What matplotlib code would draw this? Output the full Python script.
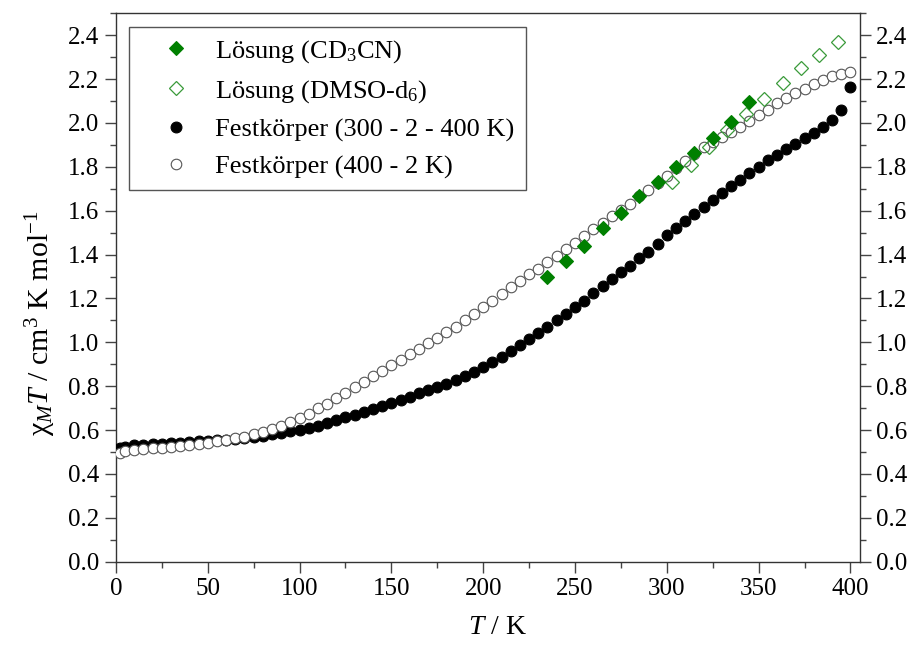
import matplotlib
matplotlib.use("Agg")
import matplotlib.pyplot as plt
from matplotlib.ticker import MultipleLocator
import numpy as np

plt.rcParams['font.family'] = ['Liberation Serif', 'DejaVu Serif']
plt.rcParams['mathtext.fontset'] = 'custom'
plt.rcParams['mathtext.rm'] = 'Liberation Serif'
plt.rcParams['mathtext.it'] = 'Liberation Serif:italic'
plt.rcParams['mathtext.bf'] = 'Liberation Serif:bold'

# --- data ---
T_cd3cn = [235, 245, 255, 265, 275, 285, 295, 305, 315, 325, 335, 345]
chi_cd3cn = [1.30, 1.37, 1.44, 1.52, 1.59, 1.665, 1.73, 1.80, 1.865, 1.93, 2.005, 2.097]

T_dmso = [303, 313, 323, 333, 343, 353, 363, 373, 383, 393]
chi_dmso = [1.73, 1.81, 1.89, 1.97, 2.04, 2.11, 2.18, 2.25, 2.31, 2.37]

T_solid = [2, 5, 10, 15, 20, 25, 30, 35, 40, 45, 50, 55, 60, 65, 70, 75, 80, 85, 90, 95,
           100, 105, 110, 115, 120, 125, 130, 135, 140, 145, 150, 155, 160, 165, 170, 175,
           180, 185, 190, 195, 200, 205, 210, 215, 220, 225, 230, 235, 240, 245, 250, 255,
           260, 265, 270, 275, 280, 285, 290, 295, 300, 305, 310, 315, 320, 325, 330, 335,
           340, 345, 350, 355, 360, 365, 370, 375, 380, 385, 390, 395, 400]

chi_solid_up = [0.52, 0.525, 0.53, 0.533, 0.535, 0.538, 0.54, 0.543, 0.545, 0.548,
                0.55, 0.553, 0.556, 0.56, 0.565, 0.57, 0.575, 0.58, 0.587, 0.594,
                0.60, 0.61, 0.62, 0.632, 0.645, 0.658, 0.67, 0.683, 0.696, 0.709,
                0.722, 0.737, 0.752, 0.767, 0.782, 0.797, 0.812, 0.828, 0.846, 0.866,
                0.887, 0.91, 0.933, 0.96, 0.988, 1.015, 1.042, 1.07, 1.10, 1.13,
                1.16, 1.19, 1.224, 1.258, 1.29, 1.32, 1.35, 1.385, 1.414, 1.45,
                1.487, 1.52, 1.552, 1.585, 1.618, 1.649, 1.68, 1.712, 1.742, 1.772,
                1.80, 1.83, 1.855, 1.88, 1.905, 1.93, 1.955, 1.98, 2.013, 2.06, 2.165]

chi_solid_down = [0.497, 0.503, 0.508, 0.512, 0.516, 0.52, 0.524, 0.528, 0.533, 0.538,
                  0.543, 0.549, 0.555, 0.562, 0.57, 0.58, 0.592, 0.605, 0.62, 0.637,
                  0.655, 0.675, 0.70, 0.72, 0.745, 0.77, 0.795, 0.82, 0.845, 0.87,
                  0.895, 0.92, 0.945, 0.97, 0.995, 1.02, 1.045, 1.07, 1.10, 1.13,
                  1.16, 1.19, 1.22, 1.25, 1.28, 1.31, 1.335, 1.365, 1.395, 1.425,
                  1.455, 1.485, 1.515, 1.545, 1.575, 1.605, 1.632, 1.665, 1.695, 1.728,
                  1.76, 1.795, 1.825, 1.86, 1.89, 1.915, 1.935, 1.958, 1.982, 2.01,
                  2.035, 2.06, 2.09, 2.112, 2.136, 2.156, 2.177, 2.195, 2.213, 2.225, 2.233]

labels = ["Lösung (CD$_3$CN)", "Lösung (DMSO-d$_6$)",
          "Festkörper (300 - 2 - 400 K)", "Festkörper (400 - 2 K)"]

fig = plt.figure(figsize=(9.13, 6.48), dpi=100)
ax = fig.add_axes([0.127, 0.1332, 0.8146, 0.8463])

ax.plot(T_cd3cn, chi_cd3cn, linestyle='none', marker='D', ms=7.3,
        mfc='#008000', mec='#008000', mew=0.8, label=labels[0], zorder=5)
ax.plot(T_dmso, chi_dmso, linestyle='none', marker='D', ms=7.3,
        mfc='none', mec='#3a9a3a', mew=0.9, label=labels[1], zorder=4)
ax.plot(T_solid, chi_solid_up, linestyle='none', marker='o', ms=7.8,
        mfc='black', mec='black', mew=0.8, label=labels[2], zorder=3)
ax.plot(T_solid, chi_solid_down, linestyle='none', marker='o', ms=7.6,
        mfc='white', mec='#555555', mew=0.8, label=labels[3], zorder=3.5)

ax.set_xlim(0, 405)
ax.set_ylim(0, 2.5)
ax.xaxis.set_major_locator(MultipleLocator(50))
ax.xaxis.set_minor_locator(MultipleLocator(25))
ax.yaxis.set_major_locator(MultipleLocator(0.2))
ax.yaxis.set_minor_locator(MultipleLocator(0.1))
ax.yaxis.set_major_formatter(matplotlib.ticker.FormatStrFormatter('%.1f'))

for s in ax.spines.values():
    s.set_color('#333333')
    s.set_linewidth(1.0)

ax.tick_params(which='both', direction='out', colors='#444444', labelcolor='black',
               labelsize=18, right=True, labelright=True, top=False, width=1.0)
ax.tick_params(which='major', length=8, pad=4)
ax.tick_params(which='minor', length=4.5)

ax.set_xlabel("$T$ / K", fontsize=20)
ax.xaxis.set_label_coords(0.513, -0.098)
ax.set_ylabel("χ$_{M}$$T$ / cm$^3$ K mol$^{-1}$", fontsize=21.5)
ax.yaxis.set_label_coords(-0.078, 0.435)

leg = ax.legend(loc='upper left', bbox_to_anchor=(0.0175, 0.975), fontsize=19,
                frameon=True, fancybox=False, edgecolor='#555555', framealpha=1,
                borderpad=0.42, labelspacing=0.5, handletextpad=0.1, handlelength=2.75,
                borderaxespad=0)
leg.get_frame().set_linewidth(1.0)

fig.savefig("out.png", dpi=100)
